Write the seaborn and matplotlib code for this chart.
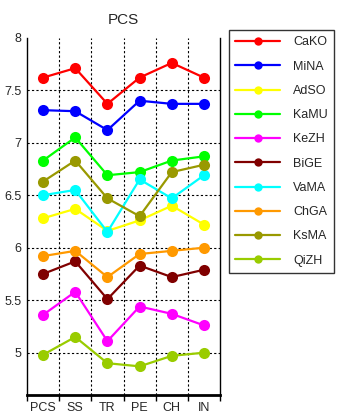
import matplotlib
matplotlib.use("Agg")
import matplotlib.pyplot as plt
import seaborn as sns
import pandas as pd
import numpy as np
from matplotlib.ticker import FixedLocator

categories = ["PCS", "SS", "TR", "PE", "CH", "IN"]
series_names = ["CaKO", "MiNA", "AdSO", "KaMU", "KeZH", "BiGE", "VaMA", "ChGA", "KsMA", "QiZH"]
CaKO = [7.62, 7.71, 7.37, 7.62, 7.76, 7.62]
MiNA = [7.31, 7.30, 7.12, 7.40, 7.37, 7.37]
AdSO = [6.28, 6.37, 6.16, 6.26, 6.40, 6.22]
KaMU = [6.83, 7.05, 6.69, 6.72, 6.83, 6.87]
KeZH = [5.36, 5.58, 5.11, 5.44, 5.37, 5.26]
BiGE = [5.75, 5.87, 5.51, 5.83, 5.72, 5.79]
VaMA = [6.50, 6.55, 6.15, 6.65, 6.47, 6.69]
ChGA = [5.92, 5.97, 5.72, 5.94, 5.97, 6.00]
KsMA = [6.63, 6.83, 6.47, 6.30, 6.72, 6.79]
QiZH = [4.98, 5.15, 4.90, 4.87, 4.97, 5.00]
y_ticks = [5, 5.5, 6, 6.5, 7, 7.5, 8]
y_tick_labels = ["5", "5.5", "6", "6.5", "7", "7.5", "8"]

colors = ["#FF0000", "#0000FF", "#FFFF00", "#00FF00", "#FF00FF",
          "#800000", "#00FFFF", "#FF9900", "#999900", "#99CC00"]

values = [CaKO, MiNA, AdSO, KaMU, KeZH, BiGE, VaMA, ChGA, KsMA, QiZH]
rows = []
for name, vals in zip(series_names, values):
    for i, (c, v) in enumerate(zip(categories, vals)):
        rows.append({"series": name, "x": i, "cat": c, "value": v})
df = pd.DataFrame(rows)

sns.set_style("white")
plt.rcParams["font.family"] = ["Liberation Sans", "DejaVu Sans"]

fig = plt.figure(figsize=(3.37, 4.19), dpi=100)
ax = fig.add_axes([0.080, 0.058, 0.573, 0.852])

sns.lineplot(data=df, x="x", y="value", hue="series", hue_order=series_names,
             palette=colors, marker="o", markersize=8, markeredgewidth=0,
             linewidth=1.6, sort=False, ax=ax, legend=False)

ax.set_xlim(-0.5, 5.5)
ax.set_ylim(4.6, 8)
ax.set_xticks(range(len(categories)))
ax.set_xticklabels(categories, fontsize=9)
ax.xaxis.set_minor_locator(FixedLocator(np.arange(-0.5, 6.0, 1.0)))
ax.tick_params(axis="x", which="major", length=0, pad=5)
ax.tick_params(axis="x", which="minor", length=4, width=1, color="black", direction="out", bottom=True)
ax.set_yticks(y_ticks)
ax.set_yticklabels(y_tick_labels, fontsize=9)
ax.tick_params(axis="y", length=0, pad=4)
ax.set_xlabel("")
ax.set_ylabel("")
ax.set_title("PCS", fontsize=11, pad=10)

for yv in y_ticks[:-1]:
    ax.axhline(yv, color="black", linestyle=(0, (2, 2)), linewidth=0.8, zorder=0)
for xv in np.arange(0.5, 5.0, 1.0):
    ax.axvline(xv, color="black", linestyle=(0, (2, 2)), linewidth=0.8, zorder=0)

for side in ["left", "right"]:
    ax.spines[side].set_visible(True)
    ax.spines[side].set_color("black")
    ax.spines[side].set_linewidth(1.0)
ax.spines["bottom"].set_color("black")
ax.spines["bottom"].set_linewidth(2.0)
ax.spines["top"].set_visible(False)

handles = [plt.Line2D([], [], color=c, marker="o", markersize=6, markeredgewidth=0, linewidth=1.6)
           for c in colors]
leg = fig.legend(handles, series_names, loc="upper left", bbox_to_anchor=(0.680, 0.928),
                 frameon=True, fancybox=False, fontsize=9, handlelength=3.6,
                 labelspacing=0.98, borderpad=0.5, handletextpad=1.0, borderaxespad=0)
leg.get_frame().set_edgecolor("black")
leg.get_frame().set_linewidth(1.0)

fig.savefig("out.png", dpi=100)
